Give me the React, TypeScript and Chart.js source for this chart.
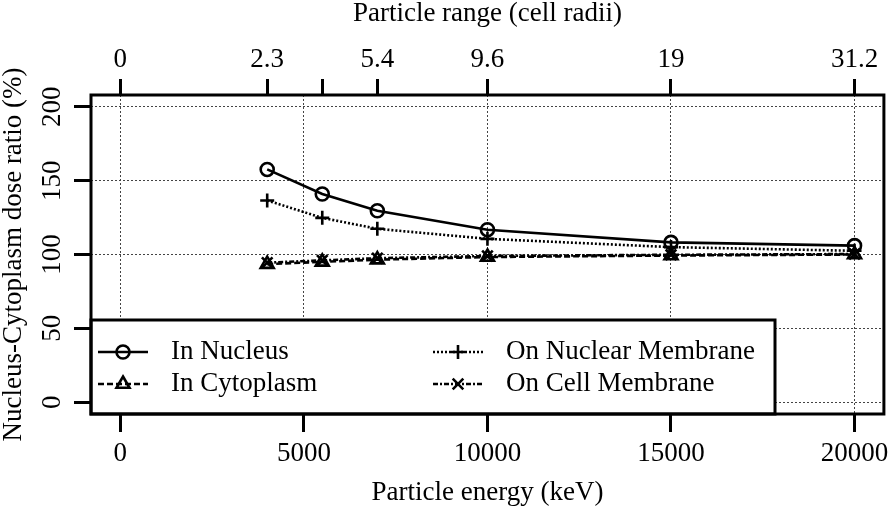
import React, { useEffect, useRef } from 'react';
import { Chart, registerables, PointElement } from 'chart.js';

Chart.register(...registerables);

// ---- data ----
const energies = [4000, 5500, 7000, 10000, 15000, 20000];
const inNucleus = [157.6, 141, 129.6, 116.8, 108.2, 106];
const inCytoplasm = [93.5, 95, 96.5, 98.3, 99.3, 100];
const onNuclearMembrane = [136.6, 124.8, 117.4, 110.6, 105, 102.5];
const onCellMembrane = [94.5, 96, 97.5, 99, 99.8, 100.3];

const seriesNames = ['In Nucleus', 'In Cytoplasm', 'On Nuclear Membrane', 'On Cell Membrane'];
const seriesValues = [inNucleus, inCytoplasm, onNuclearMembrane, onCellMembrane];

const energyTicks = [0, 5000, 10000, 15000, 20000];
const rangeTickEnergies = [0, 4000, 5500, 7000, 10000, 15000, 20000];
const rangeTickLabels = ['0', '2.3', '', '5.4', '9.6', '19', '31.2'];
const ratioTicks = [0, 50, 100, 150, 200];

const xTitle = 'Particle energy (keV)';
const topTitle = 'Particle range (cell radii)';
const yTitle = 'Nucleus-Cytoplasm dose ratio (%)';

// ---- styles ----
const FONT = '"Liberation Serif", "Times New Roman", serif';
const FS = 27;
const LW = 2.6;
const seriesStyles = [
  { pointStyle: 'circle', radius: 6.5, dash: [] as number[] },
  { pointStyle: 'triangle', radius: 7.5, dash: [6, 3] },
  { pointStyle: 'cross', radius: 7, dash: [2, 2] },
  { pointStyle: 'crossRot', radius: 7.5, dash: [5, 2, 2, 2] },
];

const framePlugin = {
  id: 'frame',
  afterDraw(chart: any) {
    const { ctx, chartArea: a, scales } = chart;
    const y = scales.y;
    ctx.save();
    // rotated y tick labels
    ctx.font = `${FS}px ${FONT}`;
    ctx.fillStyle = '#000';
    ctx.textAlign = 'center';
    ctx.textBaseline = 'middle';
    for (const v of ratioTicks) {
      const py = y.getPixelForValue(v);
      ctx.save();
      ctx.translate(53, py);
      ctx.rotate(-Math.PI / 2);
      ctx.fillText(String(v), 0, 0);
      ctx.restore();
    }
    // legend box (inside plot, bottom-left)
    const lx = a.left;
    const lb = a.bottom;
    const lw = 684;
    const lh = 94;
    ctx.fillStyle = '#fff';
    ctx.fillRect(lx, lb - lh, lw, lh);
    ctx.lineWidth = 3;
    ctx.strokeStyle = '#000';
    ctx.setLineDash([]);
    ctx.strokeRect(lx, lb - lh, lw, lh);
    chart.data.datasets.forEach((ds: any, i: number) => {
      const col = Math.floor(i / 2);
      const row = i % 2;
      const cy = lb - 62 + row * 32;
      const x0 = lx + 7 + col * 335;
      ctx.save();
      ctx.lineWidth = ds.borderWidth;
      ctx.strokeStyle = '#000';
      ctx.setLineDash(ds.borderDash || []);
      ctx.beginPath();
      ctx.moveTo(x0, cy);
      ctx.lineTo(x0 + 50, cy);
      ctx.stroke();
      ctx.restore();
      const pt: any = new PointElement({
        x: x0 + 25,
        y: cy,
        options: {
          pointStyle: ds.pointStyle,
          radius: ds.pointRadius,
          borderWidth: ds.pointBorderWidth,
          borderColor: '#000',
          backgroundColor: 'rgba(0,0,0,0)',
          rotation: 0,
        },
      } as any);
      ctx.save();
      ctx.setLineDash([]);
      pt.draw(ctx);
      ctx.restore();
      ctx.fillStyle = '#000';
      ctx.textAlign = 'left';
      ctx.textBaseline = 'middle';
      ctx.font = `${FS}px ${FONT}`;
      ctx.fillText(ds.label, x0 + 73, cy);
    });
    // plot frame
    ctx.lineWidth = 3;
    ctx.strokeStyle = '#000';
    ctx.setLineDash([]);
    ctx.strokeRect(a.left, a.top, a.right - a.left, a.bottom - a.top);
    ctx.restore();
  },
};

const tickFont = { family: FONT, size: FS, lineHeight: 1 };
const noPad = (s: any) => {
  s.paddingLeft = 0;
  s.paddingRight = 0;
  s.paddingTop = 0;
  s.paddingBottom = 0;
};

export default function App() {
  const ref = useRef<HTMLCanvasElement>(null);
  useEffect(() => {
    const datasets = seriesNames.map((name, i) => ({
      label: name,
      data: energies.map((x, j) => ({ x, y: seriesValues[i][j] })),
      borderColor: '#000',
      backgroundColor: 'rgba(0,0,0,0)',
      borderWidth: LW,
      borderDash: seriesStyles[i].dash,
      pointStyle: seriesStyles[i].pointStyle,
      pointRadius: seriesStyles[i].radius,
      pointBorderWidth: LW,
      pointBorderColor: '#000',
      pointBackgroundColor: 'rgba(0,0,0,0)',
      tension: 0,
      fill: false,
    }));
    const chart = new Chart(ref.current as HTMLCanvasElement, {
      type: 'line',
      data: { datasets } as any,
      plugins: [framePlugin],
      options: {
        responsive: false,
        animation: false,
        devicePixelRatio: 1,
        layout: { padding: { left: 0, right: 6, top: 0, bottom: 0 } },
        plugins: { legend: { display: false }, tooltip: { enabled: false } },
        scales: {
          x: {
            type: 'linear',
            position: 'bottom',
            min: -800,
            max: 20800,
            afterBuildTicks: (s: any) => {
              s.ticks = energyTicks.map((v) => ({ value: v }));
            },
            afterFit: (s: any) => {
              s.height = 99;
              noPad(s);
            },
            grid: {
              color: '#444',
              lineWidth: 1,
              drawOnChartArea: true,
              drawTicks: true,
              tickLength: 18,
              tickColor: '#000',
              tickWidth: 3,
              tickBorderDash: [],
            },
            border: { display: false, dash: [2, 2] },
            ticks: {
              font: tickFont,
              color: '#000',
              padding: 8.5,
              maxRotation: 0,
              minRotation: 0,
              autoSkip: false,
              callback: (v: any) => String(v),
            },
            title: {
              display: true,
              text: xTitle,
              color: '#000',
              font: tickFont,
              padding: { top: 0, bottom: 7 },
            },
          },
          x2: {
            type: 'linear',
            position: 'top',
            min: -800,
            max: 20800,
            afterBuildTicks: (s: any) => {
              s.ticks = rangeTickEnergies.map((v) => ({ value: v }));
            },
            afterFit: (s: any) => {
              s.height = 95;
              noPad(s);
            },
            grid: {
              drawOnChartArea: false,
              drawTicks: true,
              tickLength: 16,
              tickColor: '#000',
              tickWidth: 3,
              tickBorderDash: [],
              color: '#000',
            },
            border: { display: false },
            ticks: {
              font: tickFont,
              color: '#000',
              padding: 5.5,
              maxRotation: 0,
              minRotation: 0,
              autoSkip: false,
              callback: (_v: any, i: number) => rangeTickLabels[i],
            },
            title: {
              display: true,
              text: topTitle,
              color: '#000',
              font: tickFont,
              padding: { top: 0, bottom: 0 },
            },
          },
          y: {
            type: 'linear',
            position: 'left',
            min: -8,
            max: 208,
            afterBuildTicks: (s: any) => {
              s.ticks = ratioTicks.map((v) => ({ value: v }));
            },
            afterFit: (s: any) => {
              s.width = 91;
              noPad(s);
            },
            grid: {
              color: '#444',
              lineWidth: 1,
              drawOnChartArea: true,
              drawTicks: true,
              tickLength: 17,
              tickColor: '#000',
              tickWidth: 3,
              tickBorderDash: [],
            },
            border: { display: false, dash: [2, 2] },
            ticks: { display: false },
            title: {
              display: true,
              text: yTitle,
              color: '#000',
              font: tickFont,
              padding: { top: 0, bottom: 0 },
            },
          },
        },
      } as any,
    });
    return () => chart.destroy();
  }, []);
  return (
    <div style={{ position: 'fixed', left: 0, top: 0, width: 894, height: 513, background: '#fff' }}>
      <canvas ref={ref} width={894} height={513} style={{ display: 'block', width: 894, height: 513 }} />
    </div>
  );
}
